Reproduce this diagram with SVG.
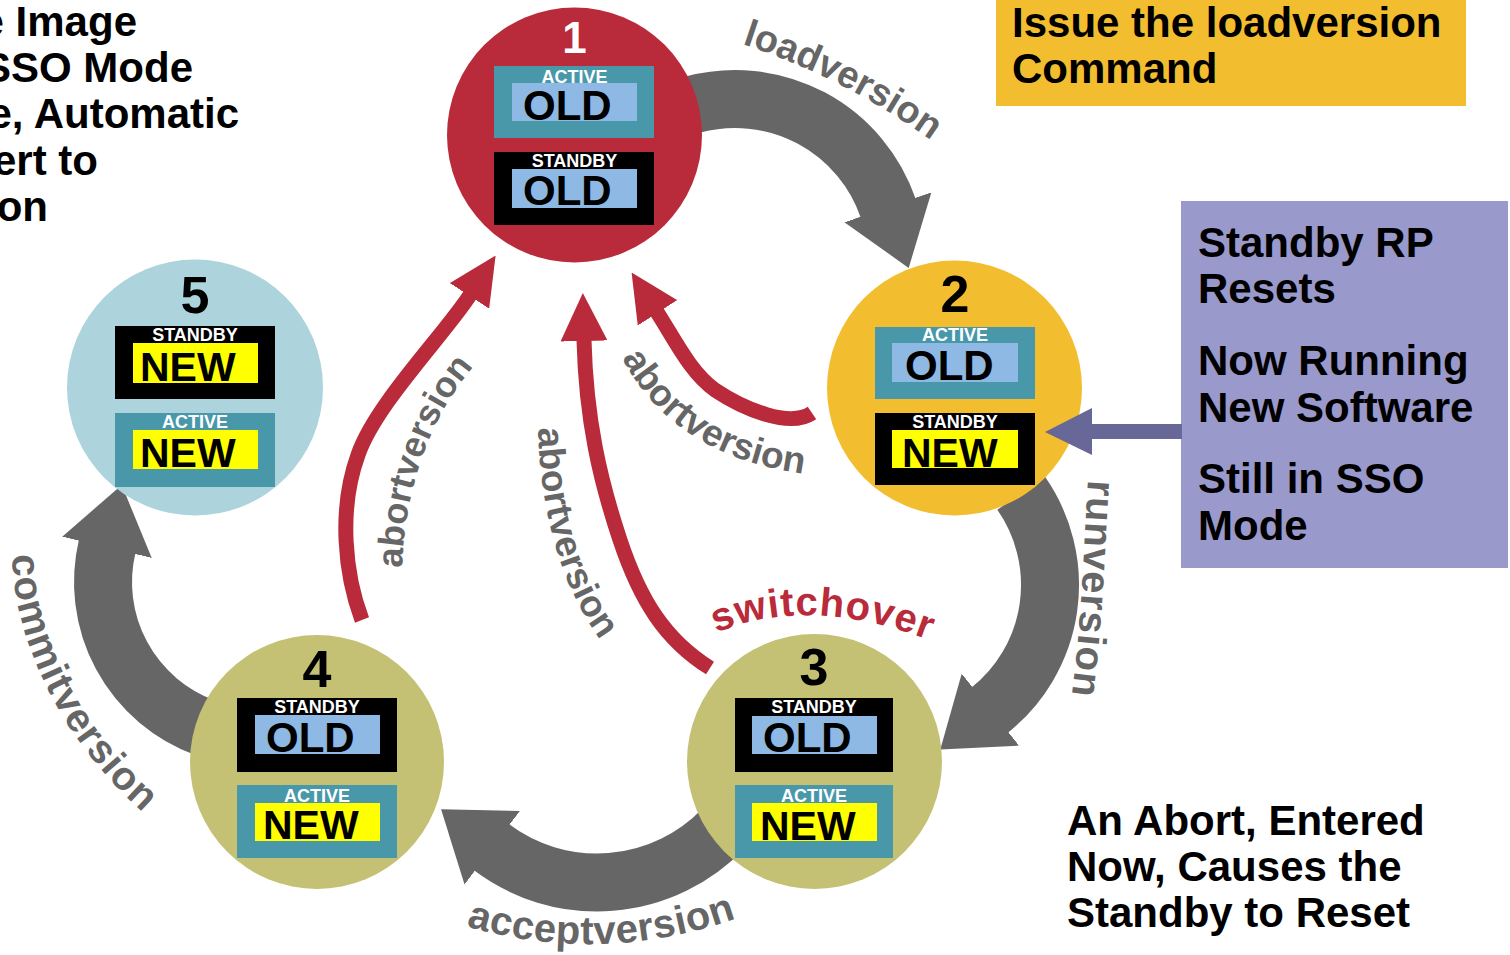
<svg xmlns="http://www.w3.org/2000/svg" width="1510" height="955" viewBox="0 0 1510 955">
<style>
text{font-family:"Liberation Sans",Arial,sans-serif;font-weight:bold}
.num{font-size:52px;text-anchor:middle;fill:#000}
.tag{font-size:18px;text-anchor:middle;fill:#fff}
.ver{font-size:42px;fill:#000}
.new{font-size:41px;fill:#000}
.note{font-size:42px;fill:#000}
.cl{font-size:40px;fill:#666}
.ab{font-size:37px;fill:#666}
.gray{fill:none;stroke:#666;stroke-width:58}
.red{fill:none;stroke:#B92B3A;stroke-width:15}
.teal{fill:#4898AA}
.blk{fill:#000}
.old{fill:#8DB9E4}
.yel{fill:#FFFF00}
</style>
<defs>
<marker id="gh" markerUnits="userSpaceOnUse" markerWidth="64" markerHeight="92" viewBox="0 0 64 92" refX="1" refY="46" orient="auto"><path d="M0,0 L64,46 L0,92 Z" fill="#666"/></marker>
<marker id="rh" markerUnits="userSpaceOnUse" markerWidth="48" markerHeight="47" viewBox="0 0 48 47" refX="1" refY="23.5" orient="auto"><path d="M0,0 L48,23.5 L0,47 Z" fill="#B92B3A"/></marker>
<path id="tpLoad" d="M 742 44 Q 840 76 928 138"/>
<path id="tpRun" d="M 1088 480 C 1084 540 1082 620 1071 702"/>
<path id="tpAccept" d="M 466 926 Q 600 966 738 918"/>
<path id="tpCommit" d="M 12 555 C 14 640 60 740 146 815"/>
<path id="tpSwitch" d="M 716 633 Q 812 593 936 643"/>
<path id="tpAb1" d="M 402 568 C 405 490 428 420 474 366"/>
<path id="tpAb2" d="M 538 428 C 540 510 560 590 608 650"/>
<path id="tpAb3" d="M 622 358 C 650 410 700 460 806 474"/>
</defs>
<rect width="1510" height="955" fill="#fff"/>

<g id="intro-text">
<text x="137" y="36" text-anchor="end" class="note">e Image</text>
<text x="193" y="82" text-anchor="end" class="note">SSO Mode</text>
<text x="239" y="128" text-anchor="end" class="note">e, Automatic</text>
<text x="98" y="175" text-anchor="end" class="note">ert to</text>
<text x="48" y="221" text-anchor="end" class="note">on</text>
</g>

<g id="connectors">
<path class="gray" marker-end="url(#gh)" d="M 693.1 104.5 A 162 162 0 0 1 888.2 208.3"/>
<path class="gray" marker-end="url(#gh)" d="M 1021.1 493.2 A 160 160 0 0 1 989.6 710.2"/>
<path class="gray" marker-end="url(#gh)" d="M 723.2 828.9 A 175.5 175.5 0 0 1 491.4 847.2"/>
<path class="gray" marker-end="url(#gh)" d="M 205 727.7 A 155 155 0 0 1 107.2 546.3"/>
<path class="red" marker-end="url(#rh)" d="M 362 620 C 345 575 338 510 358 455 C 375 405 444 335 470 295"/>
<path class="red" marker-end="url(#rh)" d="M 710 668 C 665 640 640 600 620 540 C 600 480 586 420 584 340"/>
<path class="red" marker-end="url(#rh)" d="M 812 413 C 790 428 745 410 715 390 C 690 372 675 340 657 312"/>
<text class="cl" style="font-size:38px"><textPath href="#tpLoad">loadversion</textPath></text>
<text class="cl" letter-spacing="1"><textPath href="#tpRun">runversion</textPath></text>
<text class="cl" letter-spacing="0.5"><textPath href="#tpAccept">acceptversion</textPath></text>
<text class="cl" letter-spacing="1"><textPath href="#tpCommit">commitversion</textPath></text>
<text style="font-size:40px;fill:#B92B3A" letter-spacing="1"><textPath href="#tpSwitch">switchover</textPath></text>
<text class="ab" style="font-size:36px"><textPath href="#tpAb1">abortversion</textPath></text>
<text class="ab"><textPath href="#tpAb2">abortversion</textPath></text>
<text class="ab"><textPath href="#tpAb3">abortversion</textPath></text>
</g>

<g id="node1">
<circle cx="574.5" cy="135" r="127.5" fill="#B92B3A"/>
<text class="num" x="574.5" y="53" style="font-size:44px;fill:#fff">1</text>
<rect class="teal" x="494" y="66" width="160" height="72"/>
<rect class="old" x="512" y="83" width="125" height="38"/>
<text class="tag" x="574.5" y="83">ACTIVE</text>
<text class="ver" x="523" y="120">OLD</text>
<rect class="blk" x="494" y="152" width="160" height="73"/>
<rect class="old" x="512" y="169" width="125" height="39"/>
<text class="tag" x="574.5" y="167">STANDBY</text>
<text class="ver" x="523" y="205">OLD</text>
</g>

<g id="node2">
<circle cx="954.5" cy="388" r="127.5" fill="#F2BD2F"/>
<text class="num" x="955" y="312">2</text>
<rect class="teal" x="875" y="327" width="160" height="72"/>
<rect class="old" x="892" y="343" width="126" height="39"/>
<text class="tag" x="955" y="341">ACTIVE</text>
<text class="ver" x="905" y="380">OLD</text>
<rect class="blk" x="875" y="413" width="160" height="72"/>
<rect class="yel" x="892" y="430" width="126" height="38"/>
<text class="tag" x="955" y="428">STANDBY</text>
<text class="new" x="902" y="467">NEW</text>
</g>

<g id="node3">
<circle cx="814.5" cy="761.5" r="127.5" fill="#C4C074"/>
<text class="num" x="814" y="685">3</text>
<rect class="blk" x="735" y="698" width="158" height="74"/>
<rect class="old" x="752" y="716" width="125" height="38"/>
<text class="tag" x="814" y="713">STANDBY</text>
<text class="ver" x="763" y="752">OLD</text>
<rect class="teal" x="735" y="785" width="158" height="73"/>
<rect class="yel" x="752" y="803" width="125" height="38"/>
<text class="tag" x="814" y="802">ACTIVE</text>
<text class="new" x="760" y="840">NEW</text>
</g>

<g id="node4">
<circle cx="317" cy="762" r="127" fill="#C4C074"/>
<text class="num" x="317" y="687">4</text>
<rect class="blk" x="237" y="698" width="160" height="74"/>
<rect class="old" x="255" y="715" width="125" height="39"/>
<text class="tag" x="317" y="713">STANDBY</text>
<text class="ver" x="266" y="752">OLD</text>
<rect class="teal" x="237" y="785" width="160" height="73"/>
<rect class="yel" x="255" y="803" width="125" height="38"/>
<text class="tag" x="317" y="802">ACTIVE</text>
<text class="new" x="263" y="839">NEW</text>
</g>

<g id="node5">
<circle cx="195" cy="387.5" r="128" fill="#ADD3DC"/>
<text class="num" x="195" y="313">5</text>
<rect class="blk" x="115" y="326" width="160" height="73"/>
<rect class="yel" x="133" y="343" width="125" height="40"/>
<text class="tag" x="195" y="341">STANDBY</text>
<text class="new" x="140" y="381">NEW</text>
<rect class="teal" x="115" y="413" width="160" height="74"/>
<rect class="yel" x="133" y="430" width="125" height="39"/>
<text class="tag" x="195" y="428">ACTIVE</text>
<text class="new" x="140" y="467">NEW</text>
</g>

<g id="note-load">
<rect x="996" y="0" width="470" height="106" fill="#F2BD2F"/>
<text class="note" x="1012" y="37">Issue the loadversion</text>
<text class="note" x="1012" y="83">Command</text>
</g>

<g id="note-standby">
<rect x="1181" y="201" width="327" height="367" fill="#9999CC"/>
<path d="M 1182 424 L 1092 424 L 1092 408 L 1045 432 L 1092 455 L 1092 439 L 1182 439 Z" fill="#676798"/>
<text class="note" x="1198" y="257">Standby RP</text>
<text class="note" x="1198" y="303">Resets</text>
<text class="note" x="1198" y="375">Now Running</text>
<text class="note" x="1198" y="422">New Software</text>
<text class="note" x="1198" y="493">Still in SSO</text>
<text class="note" x="1198" y="540">Mode</text>
</g>

<g id="note-abort">
<text class="note" x="1067" y="835">An Abort, Entered</text>
<text class="note" x="1067" y="881">Now, Causes the</text>
<text class="note" x="1067" y="927">Standby to Reset</text>
</g>
</svg>
